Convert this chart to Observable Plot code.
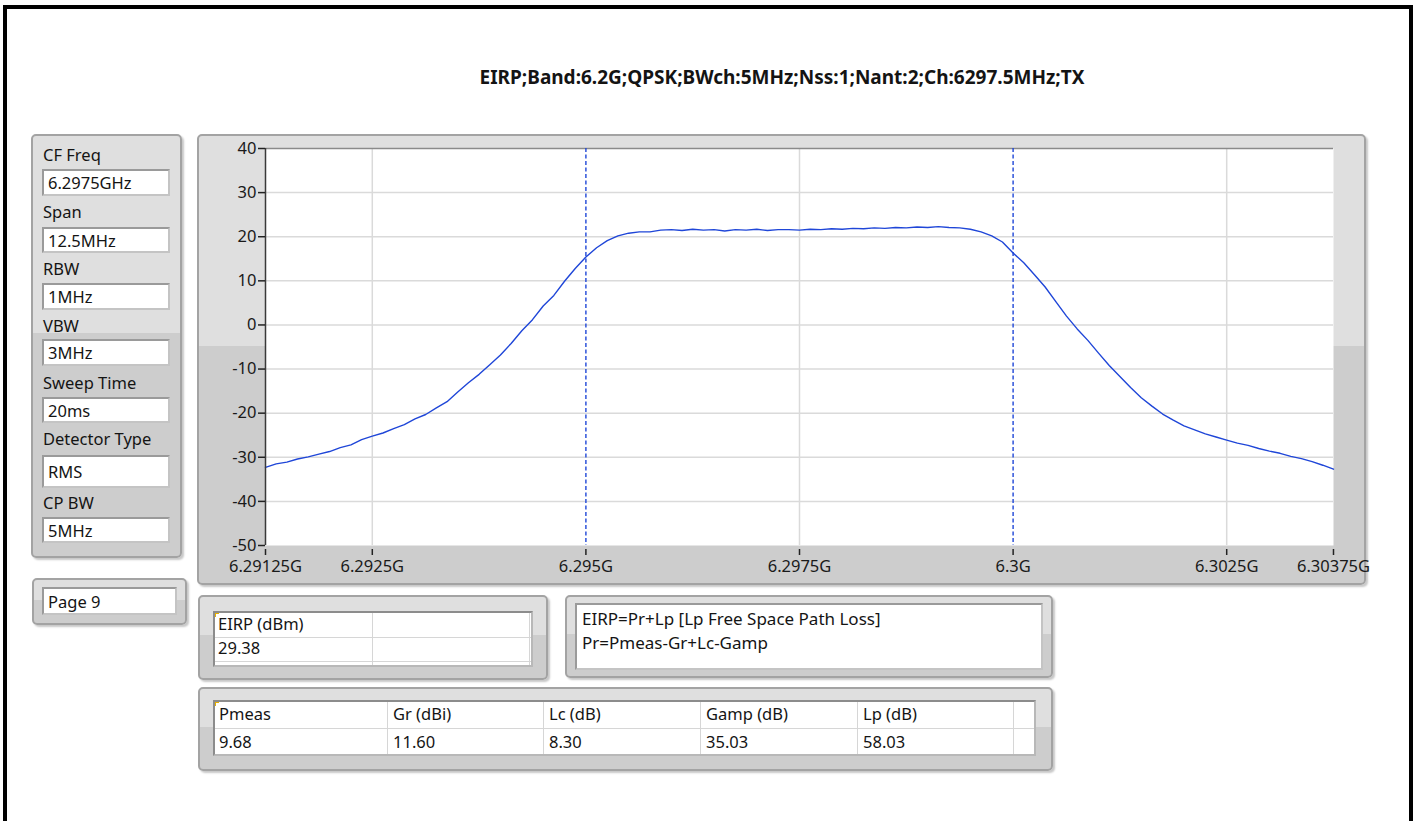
<!DOCTYPE html>
<html>
<head>
<meta charset="utf-8">
<script src="https://cdn.jsdelivr.net/npm/d3@7"></script>
<script src="https://cdn.jsdelivr.net/npm/@observablehq/plot@0.6"></script>
<style>
  html, body { margin:0; padding:0; background:#fff; overflow:hidden; width:1415px; height:821px; }
  body { font-family: "Noto Sans", "Open Sans", sans-serif; color:#141414; position:relative; }
  .pageborder { position:absolute; left:3px; top:5px; width:1402px; height:840px; border:4px solid #000; border-bottom:none; }
  .title { position:absolute; left:182px; width:1200px; top:64px; text-align:center; font-weight:bold; font-size:19px; line-height:26px; }
  .panel { position:absolute; box-sizing:border-box; border:2px solid #a3a3a3; border-radius:5px;
           background:linear-gradient(#dfdfdf 0, #dfdfdf 47%, #cdcdcd 47%, #cdcdcd 100%);
           box-shadow: 2px 2px 2px rgba(0,0,0,0.22); }
  .lbl { position:absolute; font-size:16.5px; line-height:19px; }
  .box { position:absolute; box-sizing:border-box; background:#fff; border:2px solid #9a9a9a; border-right-color:#c4c4c4; border-bottom-color:#c4c4c4;
         font-size:16.5px; padding-left:4px; display:flex; align-items:center; }
  .tbl { position:absolute; box-sizing:border-box; background:#fff; border:2px solid #8c8c8c; border-right-color:#b8b8b8; border-bottom-color:#b8b8b8; }
  .cell { position:absolute; font-size:16.5px; line-height:19px; }
  .vl { position:absolute; width:1px; background:#d6d6d6; }
  .hl { position:absolute; height:1px; background:#d6d6d6; }
  .mark1 { position:absolute; background:#e8b000; }
  #chart { position:absolute; left:197px; top:134px; }
</style>
</head>
<body>
<div class="pageborder"></div>
<div class="title" id="title"></div>

<div class="panel" style="left:31px;top:134px;width:151px;height:424px;"></div>
<div id="leftpanel"></div>

<div class="panel" style="left:32px;top:578px;width:155px;height:47px;"></div>
<div class="box" style="left:42px;top:587px;width:135px;height:28px;" id="pagebox"></div>

<div class="panel" style="left:197px;top:134px;width:1169px;height:451px;"></div>
<div id="chart"></div>

<div class="panel" style="left:198px;top:595px;width:350px;height:85px;"></div>
<div class="tbl" style="left:213px;top:611px;width:320px;height:56px;"></div>
<div id="eirptable"></div>

<div class="panel" style="left:565px;top:595px;width:488px;height:83px;"></div>
<div class="box" style="left:575px;top:603px;width:468px;height:67px;align-items:flex-start;padding-top:2px;padding-left:5px;line-height:24px;font-size:17px;" id="formula"></div>

<div class="panel" style="left:198px;top:687px;width:855px;height:84px;"></div>
<div class="tbl" style="left:213px;top:700px;width:823px;height:56px;"></div>
<div id="paramtable"></div>

<script>
// ---------- data ----------
const chartTitle = "EIRP;Band:6.2G;QPSK;BWch:5MHz;Nss:1;Nant:2;Ch:6297.5MHz;TX";

const settingLabels = ["CF Freq", "Span", "RBW", "VBW", "Sweep Time", "Detector Type", "CP BW"];
const settingValues = ["6.2975GHz", "12.5MHz", "1MHz", "3MHz", "20ms", "RMS", "5MHz"];
const pageLabel = "Page 9";

const eirpHeader = ["EIRP (dBm)", ""];
const eirpValues = ["29.38", ""];

const formulaLines = ["EIRP=Pr+Lp [Lp Free Space Path Loss]", "Pr=Pmeas-Gr+Lc-Gamp"];

const paramHeaders = ["Pmeas", "Gr (dBi)", "Lc (dB)", "Gamp (dB)", "Lp (dB)"];
const paramValues = ["9.68", "11.60", "8.30", "35.03", "58.03"];

// spectrum sweep: start 6.29125 GHz, step 0.125 MHz, 101 points (dBm)
const sweepStartGHz = 6.29125;
const sweepStepGHz = 0.000125;
const levelDbm = [
  -32.3, -31.5, -31.1, -30.4, -29.9, -29.3, -28.7, -27.8, -27.2, -26.0,
  -25.2, -24.5, -23.5, -22.6, -21.3, -20.3, -18.8, -17.4, -15.2, -13.1,
  -11.2, -9.0, -6.8, -4.2, -1.3, 1.2, 4.3, 6.7, 9.9, 12.8,
  15.4, 17.5, 19.1, 20.2, 20.8, 21.1, 21.1, 21.5, 21.6, 21.4,
  21.7, 21.5, 21.6, 21.3, 21.6, 21.5, 21.7, 21.4, 21.6, 21.6,
  21.5, 21.7, 21.6, 21.8, 21.7, 21.9, 21.8, 22.0, 21.9, 22.1,
  22.0, 22.2, 22.1, 22.3, 22.1, 22.0, 21.7, 21.1, 20.2, 18.8,
  16.3, 14.1, 11.4, 8.6, 5.3, 2.0, -0.9, -3.5, -6.4, -9.2,
  -11.7, -14.2, -16.5, -18.4, -20.2, -21.6, -22.9, -23.8, -24.7, -25.4,
  -26.1, -26.8, -27.3, -28.0, -28.6, -29.1, -29.8, -30.3, -31.0, -31.8,
  -32.7
];

const xTicks = [6.29125, 6.2925, 6.295, 6.2975, 6.3, 6.3025, 6.30375];
const xTickLabels = ["6.29125G", "6.2925G", "6.295G", "6.2975G", "6.3G", "6.3025G", "6.30375G"];
const xGrid = [6.2925, 6.2975, 6.3025];
const cursorsGHz = [6.295, 6.3];
const yTicks = [-50, -40, -30, -20, -10, 0, 10, 20, 30, 40];
const yGrid = [-40, -30, -20, -10, 0, 10, 20, 30];
const yDomain = [-50, 40];

// ---------- static widgets ----------
document.getElementById("title").textContent = chartTitle;

const labelTops = [145, 202, 259, 316, 373, 429, 493];
const boxTops = [169, 227, 283, 339, 397, 455, 517];
const boxHeights = [27, 26, 27, 27, 26, 33, 26];
const lp = document.getElementById("leftpanel");
settingLabels.forEach((t, i) => {
  const l = document.createElement("div");
  l.className = "lbl"; l.style.left = "43px"; l.style.top = labelTops[i] + "px"; l.textContent = t;
  lp.appendChild(l);
  const b = document.createElement("div");
  b.className = "box"; b.style.left = "42px"; b.style.top = boxTops[i] + "px";
  b.style.width = "128px"; b.style.height = boxHeights[i] + "px"; b.textContent = settingValues[i];
  lp.appendChild(b);
});
document.getElementById("pagebox").textContent = pageLabel;
document.getElementById("formula").innerHTML = formulaLines.join("<br>");

function addEl(parent, cls, css, text) {
  const d = document.createElement("div");
  d.className = cls; Object.assign(d.style, css);
  if (text != null) d.textContent = text;
  parent.appendChild(d);
}
function cornerMark(parent, x, y) {
  addEl(parent, "mark1", {left: x + "px", top: y + "px", width: "4px", height: "1px"});
  addEl(parent, "mark1", {left: x + "px", top: y + "px", width: "1px", height: "4px"});
}

// EIRP table
const et = document.getElementById("eirptable");
addEl(et, "hl", {left: "215px", top: "637px", width: "316px"});
addEl(et, "hl", {left: "215px", top: "661px", width: "316px"});
addEl(et, "vl", {left: "372px", top: "613px", height: "52px"});
addEl(et, "vl", {left: "529px", top: "613px", height: "52px"});
const eCols = [218, 377];
eirpHeader.forEach((t, i) => addEl(et, "cell", {left: eCols[i] + "px", top: "614px"}, t));
eirpValues.forEach((t, i) => addEl(et, "cell", {left: eCols[i] + "px", top: "638px"}, t));
cornerMark(et, 215, 613);

// parameter table
const pt = document.getElementById("paramtable");
const pColEdges = [213, 387, 543, 700, 857, 1013];
addEl(pt, "hl", {left: "215px", top: "728px", width: "819px"});
pColEdges.slice(1).forEach(x => addEl(pt, "vl", {left: x + "px", top: "702px", height: "52px"}));
paramHeaders.forEach((t, i) => addEl(pt, "cell", {left: (pColEdges[i] + 6) + "px", top: "704px"}, t));
paramValues.forEach((t, i) => addEl(pt, "cell", {left: (pColEdges[i] + 6) + "px", top: "732px"}, t));
cornerMark(pt, 215, 702);

// ---------- chart ----------
const data = levelDbm.map((v, i) => ({f: sweepStartGHz + i * sweepStepGHz, v}));
const lineBlue = "#1f46d8";

const chart = Plot.plot({
  width: 1169,
  height: 451,
  marginLeft: 68,
  marginRight: 33,
  marginTop: 14,
  marginBottom: 40,
  style: {fontFamily: "Noto Sans, sans-serif", fontSize: "16.5px", color: "#1a1a1a", background: "transparent", overflow: "visible"},
  x: {domain: [xTicks[0], xTicks[xTicks.length - 1]]},
  y: {domain: yDomain},
  marks: [
    Plot.frame({fill: "white", stroke: "none"}),
    Plot.gridY(yGrid, {stroke: "#dadada", strokeOpacity: 1, strokeWidth: 1.5}),
    Plot.gridX(xGrid, {stroke: "#dadada", strokeOpacity: 1, strokeWidth: 1.5}),
    Plot.ruleY([yDomain[1]], {stroke: "#8a8a8a", strokeWidth: 1.5}),
    Plot.ruleX(cursorsGHz, {stroke: lineBlue, strokeWidth: 1.4, strokeDasharray: "4,2.5"}),
    Plot.line(data, {x: "f", y: "v", stroke: lineBlue, strokeWidth: 1.4}),
    Plot.ruleX([xTicks[0]], {stroke: "#3a3a3a", strokeWidth: 1.5}),
    Plot.axisY({ticks: yTicks, tickSize: 7, tickPadding: 2, tickFormat: d => String(d), label: null, stroke: "#222", strokeWidth: 1.5}),
    Plot.axisX({ticks: xTicks, tickSize: 6, tickPadding: 5, dy: 4, tickFormat: d => xTickLabels[xTicks.indexOf(d)], label: null, stroke: "#222", strokeWidth: 1.5})
  ]
});
document.getElementById("chart").appendChild(chart);
</script>
</body>
</html>
